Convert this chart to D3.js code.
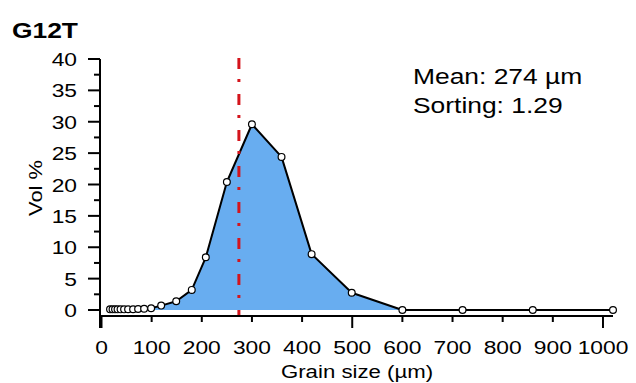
<!DOCTYPE html>
<html>
<head>
<meta charset="utf-8">
<script src="https://cdn.jsdelivr.net/npm/d3@7"></script>
<style>
  html, body { margin: 0; padding: 0; background: #fff; }
  svg { display: block; }
  text { font-family: "Liberation Sans", Arial, Helvetica, sans-serif; fill: #000; }
</style>
</head>
<body>
<svg id="chart" width="636" height="383"></svg>
<script>
// ---- data ----
const title = "G12T";
const sizes = [17, 22, 27, 32, 38, 45, 53, 63, 73, 85, 99, 119, 149, 180, 208, 250, 300, 359, 419, 499, 600, 720, 860, 1020];
const volumes = [0.1, 0.1, 0.1, 0.1, 0.1, 0.1, 0.12, 0.12, 0.15, 0.2, 0.27, 0.7, 1.4, 3.2, 8.4, 20.4, 29.6, 24.4, 8.9, 2.75, 0, 0, 0, 0];
const meanSize = 274;
const statLines = ["Mean: 274 µm", "Sorting: 1.29"];
const xTicksMajor = [0, 500, 1000];
const xTickLabels = [0, 100, 200, 300, 400, 500, 600, 700, 800, 900, 1000];
const yTickLabels = [0, 5, 10, 15, 20, 25, 30, 35, 40];
const yTicksMinor = [2.5, 7.5, 12.5, 17.5, 22.5, 27.5, 32.5, 37.5];
const xTitle = "Grain size (µm)";
const yTitle = "Vol %";

const SX = 1.2; // horizontal text stretch to match reference glyph widths

const svg = d3.select("#chart");
const x = d3.scaleLinear().domain([0, 1020]).range([101.5, 613]);
const y = d3.scaleLinear().domain([0, 40]).range([310, 59]);

const data = sizes.map((s, i) => ({ s, v: volumes[i] }));

// area
svg.append("path")
  .datum(data)
  .attr("fill", "#68adf0")
  .attr("d", d3.area().x(d => x(d.s)).y0(y(0)).y1(d => y(d.v)));

// line
svg.append("path")
  .datum(data)
  .attr("fill", "none")
  .attr("stroke", "#000")
  .attr("stroke-width", 2)
  .attr("stroke-linejoin", "round")
  .attr("d", d3.line().x(d => x(d.s)).y(d => y(d.v)));

// mean line
svg.append("line")
  .attr("x1", x(meanSize)).attr("x2", x(meanSize))
  .attr("y1", 58).attr("y2", 315)
  .attr("stroke", "#d4141c")
  .attr("stroke-width", 3)
  .attr("stroke-dasharray", "11,10,3,12");

// points
svg.append("g").selectAll("circle")
  .data(data).join("circle")
  .attr("cx", d => x(d.s)).attr("cy", d => y(d.v))
  .attr("r", 3.4)
  .attr("fill", "#fff")
  .attr("stroke", "#000")
  .attr("stroke-width", 1.2);

// x axis
const axY = 316;
const xAxis = svg.append("g").attr("transform", `translate(0,${axY})`);
xAxis.append("line").attr("x1", 100).attr("x2", 613).attr("y1", 0).attr("y2", 0)
  .attr("stroke", "#000").attr("stroke-width", 2);
xAxis.selectAll("line.tick").data(xTickLabels).join("line")
  .attr("class", "tick")
  .attr("x1", d => x(d)).attr("x2", d => x(d))
  .attr("y1", 0).attr("y2", d => xTicksMajor.includes(d) ? 12 : 6)
  .attr("stroke", "#000").attr("stroke-width", 2);
xAxis.selectAll("text").data(xTickLabels).join("text")
  .attr("transform", d => `translate(${x(d)},38) scale(${SX},1)`)
  .attr("text-anchor", "middle")
  .attr("font-size", 19)
  .text(d => d);

// y axis
const axX = 100;
const yAxis = svg.append("g").attr("transform", `translate(${axX},0)`);
yAxis.append("line").attr("x1", 0).attr("x2", 0).attr("y1", y(40)).attr("y2", axY + 12)
  .attr("stroke", "#000").attr("stroke-width", 2);
yAxis.selectAll("line.maj").data(yTickLabels).join("line")
  .attr("class", "maj")
  .attr("x1", -12).attr("x2", 0).attr("y1", d => y(d)).attr("y2", d => y(d))
  .attr("stroke", "#000").attr("stroke-width", 2);
yAxis.selectAll("line.min").data(yTicksMinor).join("line")
  .attr("class", "min")
  .attr("x1", -6).attr("x2", 0).attr("y1", d => y(d)).attr("y2", d => y(d))
  .attr("stroke", "#000").attr("stroke-width", 2);
yAxis.selectAll("text").data(yTickLabels).join("text")
  .attr("transform", d => `translate(-23,${y(d) + 7}) scale(${SX},1)`)
  .attr("text-anchor", "end")
  .attr("font-size", 19)
  .text(d => d);

// axis titles
svg.append("text")
  .attr("transform", `translate(357,378) scale(${SX},1)`)
  .attr("text-anchor", "middle")
  .attr("font-size", 18.5)
  .text(xTitle);
svg.append("text")
  .attr("transform", `translate(42,188) rotate(-90) scale(1.15,1)`)
  .attr("text-anchor", "middle")
  .attr("font-size", 19)
  .text(yTitle);

// title
svg.append("text")
  .attr("transform", `translate(12,38) scale(${SX},1)`)
  .attr("font-size", 22)
  .attr("font-weight", "bold")
  .text(title);

// stats
svg.selectAll("text.stat").data(statLines).join("text")
  .attr("class", "stat")
  .attr("transform", (d, i) => `translate(413,${84 + i * 29}) scale(${SX},1)`)
  .attr("font-size", 22)
  .text(d => d);
</script>
</body>
</html>
